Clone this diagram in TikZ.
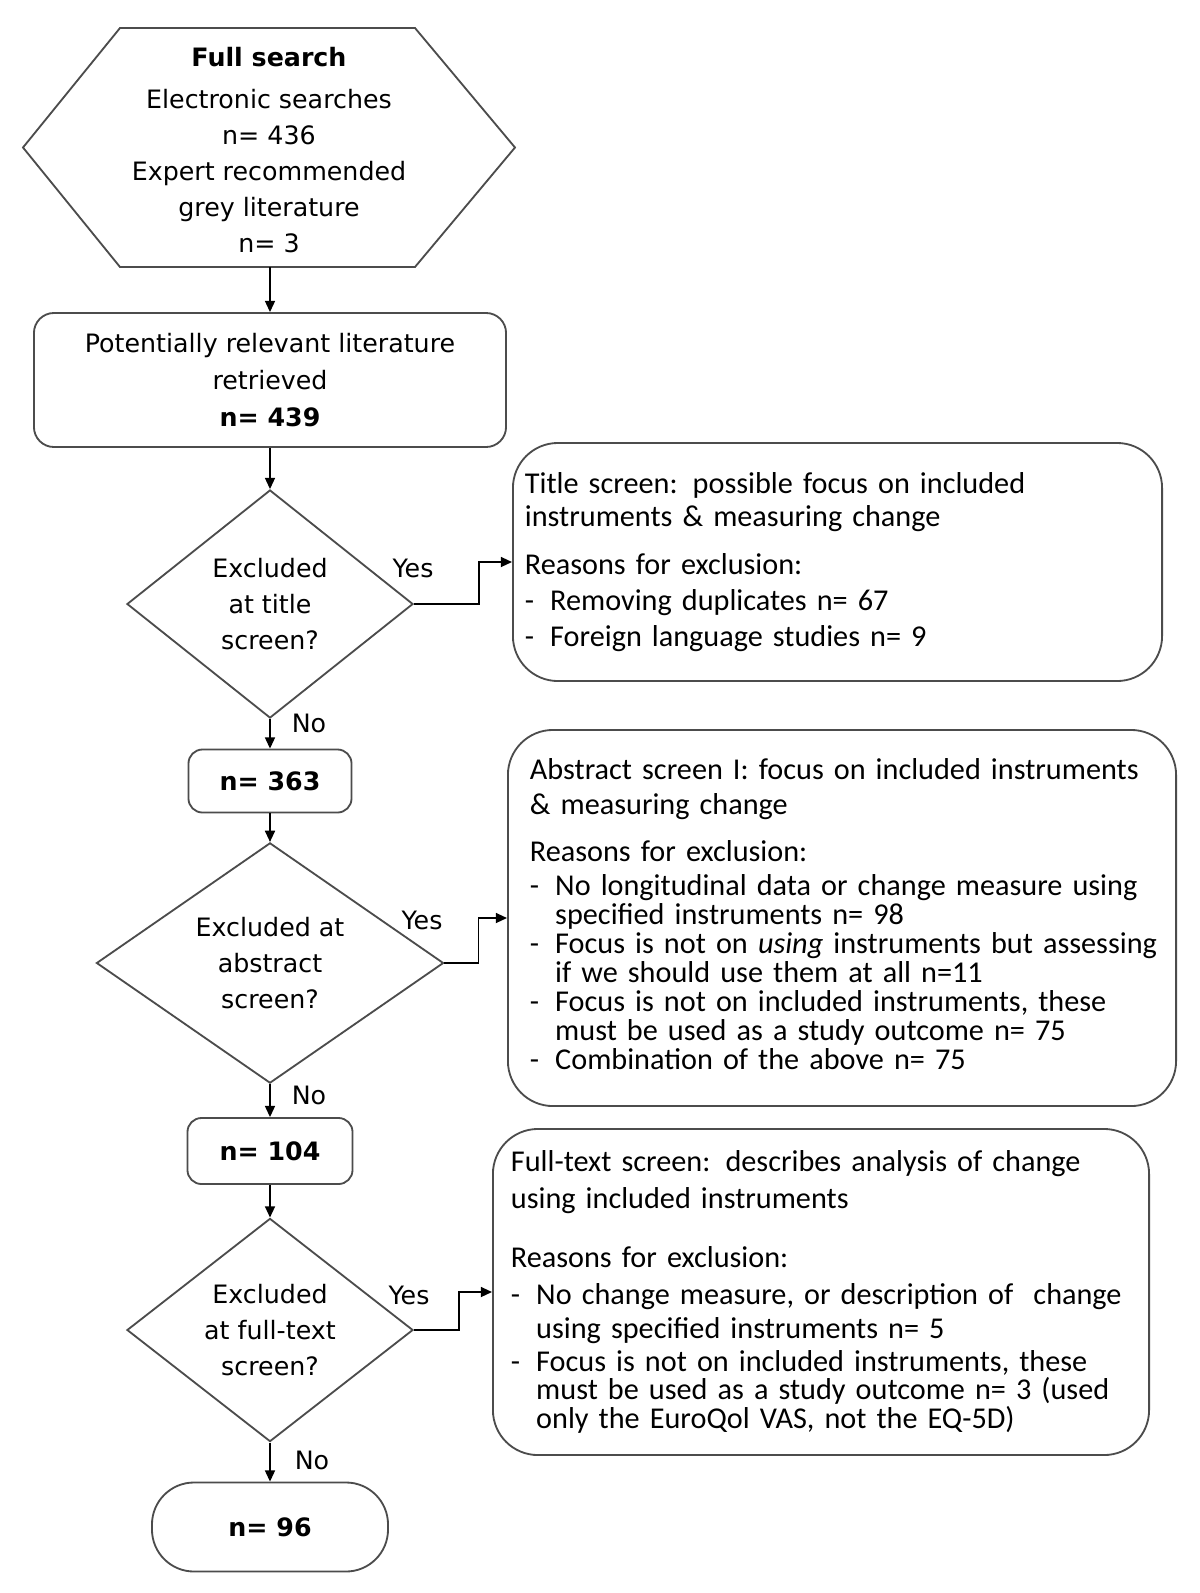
\documentclass[tikz,border=0pt]{standalone}
\usepackage{fontspec}
\setmainfont{DejaVu Sans}
\newfontfamily\carlfam{Carlito}
\usetikzlibrary{arrows.meta,shapes.geometric}
\newcommand\lftfont{\fontsize{18}{26}\selectfont}
\newcommand\rgtfont{\carlfam\fontsize{21.5}{20.6}\selectfont}
\newcommand\bul{\makebox[18pt][l]{-}}
\newcommand\ind{\hspace*{18pt}}
\begin{document}
\begin{tikzpicture}[x=0.025cm,y=-0.025cm,
  shapeline/.style={draw=black!70,line width=1.3pt},
  lbox/.style={shapeline,rounded corners=0.5cm,align=center,font=\lftfont,inner sep=0pt},
  dia/.style={shapeline,diamond,align=center,font=\lftfont,inner sep=0pt},
  rbox/.style={shapeline,rounded corners=1.125cm,align=left,font=\rgtfont},
  arr/.style={-{Triangle[length=0.28cm,width=0.25cm]},line width=1.2pt,black},
  lab/.style={font=\lftfont,inner sep=0pt}]
\useasboundingbox[fill=white] (0,0) rectangle (1200,1593);
% hexagon
\draw[shapeline] (23,147.5) -- (120,28) -- (415,28) -- (515,147.5) -- (415,267) -- (120,267) -- cycle;
\node[lab,align=center,font=\fontsize{18}{25.6}\selectfont] (hex) at (269,150)
  {\textbf{Full search}\\[4pt]Electronic searches\\n= 436\\Expert recommended\\grey literature\\n= 3};
\coordinate (hexS) at (270,267);
% left column
\node[lbox,minimum width=11.8cm,minimum height=3.35cm] (b1) at (270,380)
  {Potentially relevant literature\\retrieved\\\textbf{n= 439}};
\node[dia,minimum width=7.15cm,minimum height=5.7cm,font=\fontsize{18}{25.6}\selectfont] (d1) at (270,604)
  {Excluded\\at title\\screen?};
\node[lbox,rounded corners=0.35cm,minimum width=4.075cm,minimum height=1.575cm] (b2) at (270,781)
  {\textbf{n= 363}};
\node[dia,minimum width=8.675cm,minimum height=5.6cm,font=\fontsize{18}{25.6}\selectfont] (d2) at (270,963)
  {Excluded at\\abstract\\screen?};
\node[lbox,rounded corners=0.35cm,minimum width=4.125cm,minimum height=1.65cm] (b3) at (270,1151)
  {\textbf{n= 104}};
\node[dia,minimum width=7.15cm,minimum height=5.35cm,font=\fontsize{18}{25.6}\selectfont] (d3) at (270,1330)
  {Excluded\\at full-text\\screen?};
\node[lbox,rounded corners=1.05cm,minimum width=5.9cm,minimum height=2.225cm] (b4) at (270,1527)
  {\textbf{n= 96}};
% right boxes
\node[rbox,text width=15.625cm,inner xsep=0.3cm,minimum height=5.95cm] (t1) at (837.5,562)
  {Title screen: possible focus on included\\[2.8pt]
   instruments \& measuring change\\[13.5pt]
   Reasons for exclusion:\\[5pt]
   \bul Removing duplicates n= 67\\[5pt]
   \bul Foreign language studies n= 9};
\node[rbox,text width=15.6cm,inner xsep=0.55cm,minimum height=9.4cm] (t2) at (842,918)
  {\mbox{Abstract screen I: focus on included instruments}\\[4.3pt]
   \& measuring change\\[12.8pt]
   Reasons for exclusion:\\[3.6pt]
   \mbox{\bul No longitudinal data or change measure using}\\
   \ind specified instruments n= 98\\
   \mbox{\bul Focus is not on \textit{using} instruments but assessing}\\
   \ind if we should use them at all n=11\\
   \bul Focus is not on included instruments, these\\
   \ind must be used as a study outcome n= 75\\
   \bul Combination of the above n= 75\\[-14.6pt]\mbox{}};
\node[rbox,text width=15.5cm,inner xsep=0.45cm,minimum height=8.15cm] (t3) at (821,1292)
  {Full-text screen: describes analysis of change\\[5.7pt]
   using included instruments\\[21.3pt]
   Reasons for exclusion:\\[5.7pt]
   \mbox{\bul No change measure, or description of~~change}\\[3.6pt]
   \ind using specified instruments n= 5\\[2.8pt]
   \bul Focus is not on included instruments, these\\
   \ind must be used as a study outcome n= 3 (used\\
   \ind only the EuroQol VAS, not the EQ-5D)};
% connectors
\draw[arr] (hexS) -- (hexS |- b1.north);
\draw[arr] (b1.south) -- (d1.north);
\draw[arr] (d1.south) -- (b2.north);
\draw[arr] (b2.south) -- (d2.north);
\draw[arr] (d2.south) -- (b3.north);
\draw[arr] (b3.south) -- (d3.north);
\draw[arr] (d3.south) -- (b4.north);
\draw[arr] (d1.east) -- ++(65,0) |- (t1.west);
\draw[arr] (d2.east) -- ++(34,0) |- (t2.west);
\draw[arr] (d3.east) -- ++(45,0) |- (t3.west);
% labels
\node[lab] (y1) at (413,568) {Yes};
\node[lab] (y2) at (422,920) {Yes};
\node[lab] (y3) at (409,1295) {Yes};
\node[lab] (n1) at (309,723) {No};
\node[lab] (n2) at (309,1095) {No};
\node[lab] (n3) at (312,1460) {No};
\end{tikzpicture}
\end{document}
